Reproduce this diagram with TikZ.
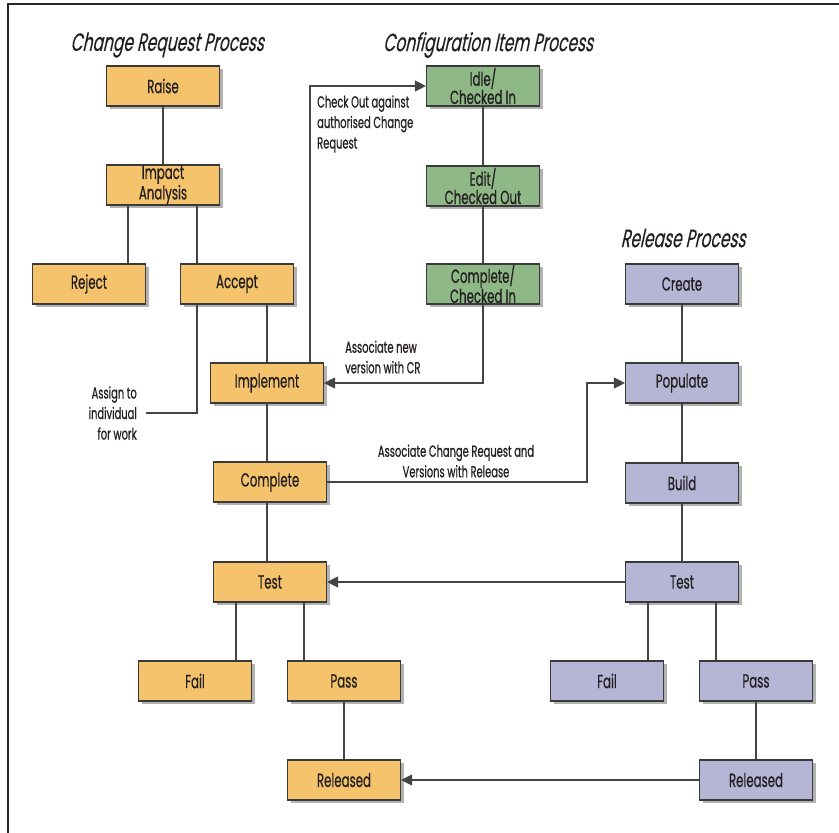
\documentclass[tikz,border=0pt]{standalone}
\usepackage{fontspec}
\setmainfont{Poppins}[FakeStretch=0.62,FakeBold=0.6]
\newfontfamily\titlefont{Poppins}[FakeStretch=0.62,FakeSlant=0.22,FakeBold=0.3]
\usetikzlibrary{arrows.meta,shadows}
\definecolor{crfill}{HTML}{F4C36C}
\definecolor{cifill}{HTML}{8FB887}
\definecolor{rpfill}{HTML}{B5B5D5}
\definecolor{boxline}{HTML}{3A3A3A}
\definecolor{linecol}{HTML}{444444}
\definecolor{txt}{HTML}{231F20}
\begin{document}
\begin{tikzpicture}[x=1pt,y=-1pt,
  box/.style={draw=boxline, line width=1.2pt, minimum width=113pt, minimum height=40pt,
    inner sep=0pt, align=center, text=txt, font=\fontsize{19}{17}\selectfont,
    drop shadow={shadow xshift=3pt, shadow yshift=-3pt, opacity=0.3, fill=black}},
  crbox/.style={box, fill=crfill},
  cibox/.style={box, fill=cifill},
  rpbox/.style={box, fill=rpfill},
  conn/.style={draw=linecol, line width=1.3pt},
  arr/.style={conn, -{Triangle[length=11pt,width=11pt]}},
  lbl/.style={inner sep=0pt, text=txt, font=\fontsize{16}{20.5}\selectfont},
  ttl/.style={inner sep=0pt, text=txt, font=\titlefont\fontsize{25}{25}\selectfont}]
\useasboundingbox (0,0) rectangle (839,833);
\fill[white] (0,0) rectangle (839,833);
\draw[line width=2pt, color=black!85] (8,833) -- (8,4) -- (839,4);

% titles
\node[ttl] (t1) at (167,45) {Change Request Process};
\node[ttl] (t2) at (488,45) {Configuration Item Process};
\node[ttl] (t3) at (683,238) {Release Process};

% change request process
\node[crbox] (raise) at (163,86) {Raise};
\node[crbox] (impact) at (163,185) {Impact\\Analysis};
\node[crbox] (reject) at (89,284) {Reject};
\node[crbox] (accept) at (237,284) {Accept};
\node[crbox] (implement) at (267,383) {Implement};
\node[crbox] (complete) at (270,482) {Complete};
\node[crbox] (testA) at (270,582) {Test};
\node[crbox] (failA) at (195,681) {Fail};
\node[crbox] (passA) at (344,681) {Pass};
\node[crbox] (relA) at (344,780) {Released};

% configuration item process
\node[cibox] (idle) at (483,86) {Idle/\\Checked In};
\node[cibox] (edit) at (483,186) {Edit/\\Checked Out};
\node[cibox] (ccin) at (483,284) {Complete/\\Checked In};

% release process
\node[rpbox] (create) at (682,284) {Create};
\node[rpbox] (populate) at (682,383) {Populate};
\node[rpbox] (build) at (682,483) {Build};
\node[rpbox] (testB) at (682,582) {Test};
\node[rpbox] (failB) at (607,681) {Fail};
\node[rpbox] (passB) at (756,681) {Pass};
\node[rpbox] (relB) at (756,780) {Released};

% labels
\node[lbl, align=left, anchor=west] (lco) at (317,124) {Check Out against\\authorised Change\\Request};
\node[lbl, align=left, anchor=west] (lan) at (345,357) {Associate new\\version with CR};
\node[lbl, align=center] (lac) at (456,461) {Associate Change Request and\\Versions with Release};
\node[lbl, align=right, anchor=east, inner xsep=0pt] (las) at (137,413) {Assign to\\individual\\for work};
\coordinate (lasend) at (146,413);

% x positions of vertical runs
\coordinate (xrej) at (128,0);
\coordinate (xacc) at (197,0);
\coordinate (ximp) at (267,0);
\coordinate (xco) at (310,0);
\coordinate (xfa) at (236,0);
\coordinate (xpa) at (304,0);
\coordinate (xfb) at (648,0);
\coordinate (xpb) at (716,0);
\coordinate (xturn) at (587,0);

% CR connectors
\draw[conn] (raise) -- (impact);
\draw[conn] (xrej |- impact.south) -- (xrej |- reject.north);
\draw[conn] (xacc |- impact.south) -- (xacc |- accept.north);
\draw[conn] (ximp |- accept.south) -- (ximp |- implement.north);
\draw[conn] (xacc |- accept.south) |- (lasend);
\draw[conn] (ximp |- implement.south) -- (ximp |- complete.north);
\draw[conn] (ximp |- complete.south) -- (ximp |- testA.north);
\draw[conn] (xfa |- testA.south) -- (xfa |- failA.north);
\draw[conn] (xpa |- testA.south) -- (xpa |- passA.north);
\draw[conn] (passA) -- (relA);

% CI connectors
\draw[conn] (idle) -- (edit);
\draw[conn] (edit) -- (ccin);
\draw[arr] (xco |- implement.north) |- (idle.west);
\draw[arr] (ccin.south) |- (implement.east);

% release connectors
\draw[conn] (create) -- (populate);
\draw[conn] (populate) -- (build);
\draw[conn] (build) -- (testB);
\draw[conn] (xfb |- testB.south) -- (xfb |- failB.north);
\draw[conn] (xpb |- testB.south) -- (xpb |- passB.north);
\draw[conn] (passB) -- (relB);
\draw[arr] (complete.east) -- (xturn |- complete.east) |- (populate.west);
\draw[arr] (testB.west) -- (testA.east);
\draw[arr] (relB.west) -- (relA.east);
\end{tikzpicture}
\end{document}
